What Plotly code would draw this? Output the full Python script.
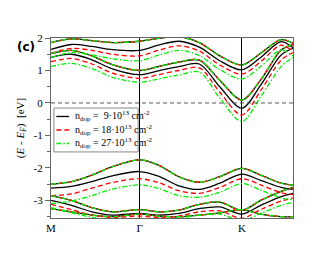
import plotly.graph_objects as go

# k-path sample positions (M - Gamma - K - M, hexagonal BZ lengths)
K_PATH = [0.0, 0.2, 0.4, 0.6, 0.866, 1.05, 1.25, 1.45, 1.65, 1.866, 2.05, 2.25, 2.366]
TICK_POS = [0.0, 0.866, 1.866]
TICK_TEXT = ["M", "Γ", "K"]
Y_TICKS = [-3, -2, -1, 0, 1, 2]

# bands that barely move with doping (drawn for every doping level)
CB2_U = [1.86, 1.97, 1.92, 1.86, 1.90, 1.99, 2.04, 1.86, 1.45, 1.17, 1.53, 1.95, 1.84]
CB1_U = [1.52, 1.62, 1.45, 1.18, 1.00, 1.12, 1.26, 1.32, 0.70, 0.09, 0.71, 1.63, 1.80]
VB1_U = [-2.50, -2.42, -2.22, -1.96, -1.75, -1.91, -2.27, -2.44, -2.27, -2.01, -2.22, -2.47, -2.53]
VB2_U = [-2.85, -3.00, -3.22, -3.35, -3.28, -3.35, -3.30, -3.12, -3.05, -3.30, -3.00, -2.72, -2.60]
VB3_U = [-3.25, -3.35, -3.45, -3.50, -3.42, -3.48, -3.50, -3.45, -3.38, -3.28, -3.42, -3.50, -3.50]

# bands shifted by doping
CB2_9 = [1.65, 1.80, 1.74, 1.64, 1.62, 1.78, 1.90, 1.72, 1.30, 1.02, 1.40, 1.89, 1.70]
CB1_9 = [1.40, 1.50, 1.33, 1.05, 0.87, 0.99, 1.12, 1.20, 0.50, -0.16, 0.55, 1.48, 1.68]
VB1_9 = [-2.62, -2.57, -2.42, -2.24, -2.11, -2.25, -2.55, -2.66, -2.47, -2.19, -2.38, -2.60, -2.66]
VB2_9 = [-3.00, -3.15, -3.35, -3.45, -3.40, -3.45, -3.40, -3.25, -3.20, -3.42, -3.15, -2.88, -2.78]

CB2_18 = [1.53, 1.68, 1.62, 1.50, 1.45, 1.62, 1.76, 1.60, 1.17, 0.89, 1.27, 1.78, 1.58]
CB1_18 = [1.27, 1.37, 1.20, 0.92, 0.76, 0.87, 1.00, 1.08, 0.33, -0.37, 0.38, 1.32, 1.55]
VB1_18 = [-2.85, -2.80, -2.62, -2.45, -2.33, -2.45, -2.70, -2.78, -2.60, -2.33, -2.52, -2.76, -2.82]
VB2_18 = [-3.12, -3.28, -3.45, -3.52, -3.48, -3.52, -3.48, -3.35, -3.32, -3.55, -3.28, -3.02, -2.92]

CB2_27 = [1.40, 1.55, 1.48, 1.36, 1.30, 1.47, 1.62, 1.46, 1.03, 0.74, 1.12, 1.63, 1.45]
CB1_27 = [1.12, 1.22, 1.06, 0.79, 0.64, 0.74, 0.86, 0.95, 0.15, -0.57, 0.19, 1.12, 1.40]
VB1_27 = [-3.10, -3.02, -2.85, -2.65, -2.52, -2.63, -2.85, -2.90, -2.75, -2.48, -2.68, -2.92, -2.98]
VB2_27 = [-3.22, -3.38, -3.52, -3.60, -3.55, -3.60, -3.55, -3.45, -3.42, -3.62, -3.40, -3.15, -3.05]

LABELS = [
    "n<sub>dop</sub> =  9·10<sup>13</sup> cm<sup>-2</sup>",
    "n<sub>dop</sub> = 18·10<sup>13</sup> cm<sup>-2</sup>",
    "n<sub>dop</sub> = 27·10<sup>13</sup> cm<sup>-2</sup>",
]
COLORS = ["#000000", "#ff0000", "#00ee00"]
DASHES = ["solid", "5px,3px", "5px,2px,1.5px,2px"]
BANDS = [
    [CB2_U, CB1_U, VB1_U, VB2_U, VB3_U, CB2_9, CB1_9, VB1_9, VB2_9],
    [CB2_U, CB1_U, VB1_U, VB2_U, VB3_U, CB2_18, CB1_18, VB1_18, VB2_18],
    [CB2_U, CB1_U, VB1_U, VB2_U, VB3_U, CB2_27, CB1_27, VB1_27, VB2_27],
]

fig = go.Figure()
for name, color, dash, bands in zip(LABELS, COLORS, DASHES, BANDS):
    for band in bands:
        fig.add_trace(go.Scatter(
            x=K_PATH, y=band, mode="lines", name=name, legendgroup=name,
            showlegend=False, hoverinfo="skip",
            line=dict(color=color, dash=dash, width=1.3, shape="spline", smoothing=0.9),
        ))

# Fermi level
fig.add_hline(y=0, line=dict(color="#555555", width=1, dash="4px,3px"))

# compact legend (box, key lines, labels) in paper coordinates
LEG_X0, LEG_X1, LEG_Y0, LEG_Y1 = 0.012, 0.36, 0.367, 0.611
ROW_Y = [0.564, 0.489, 0.414]
KEY_X0, KEY_X1, TXT_X = 0.022, 0.075, 0.092
fig.add_shape(type="rect", xref="paper", yref="paper",
              x0=LEG_X0, x1=LEG_X1, y0=LEG_Y0, y1=LEG_Y1,
              line=dict(color="#888888", width=1), fillcolor="white", layer="above")
serif = "Liberation Serif"
for label, color, dash, ry in zip(LABELS, COLORS, DASHES, ROW_Y):
    fig.add_shape(type="line", xref="paper", yref="paper",
                  x0=KEY_X0, x1=KEY_X1, y0=ry, y1=ry,
                  line=dict(color=color, width=1.3, dash=dash), layer="above")
    fig.add_annotation(text=label, xref="paper", yref="paper", x=TXT_X, y=ry,
                       xanchor="left", yanchor="middle", showarrow=False,
                       font=dict(family=serif, size=10, color="black"))

fig.update_layout(
    width=330, height=255,
    margin=dict(l=31, r=45, t=30, b=45),
    paper_bgcolor="white", plot_bgcolor="white",
    showlegend=False,
    font=dict(family=serif, size=11, color="black"),
)
fig.update_xaxes(
    range=[0, 2.366], tickvals=TICK_POS, ticktext=TICK_TEXT,
    showgrid=True, gridcolor="#000000", gridwidth=1,
    showline=True, linecolor="#666666", linewidth=1.2, mirror=True,
    ticks="", zeroline=False,
    tickfont=dict(family=serif, size=11, color="black"),
)
fig.update_yaxes(
    range=[-3.54, 2], tickvals=Y_TICKS, ticktext=[str(t) for t in Y_TICKS],
    showgrid=False, zeroline=False,
    showline=True, linecolor="#666666", linewidth=1.2, mirror=True,
    ticks="outside", ticklen=5, tickcolor="#666666",
    minor=dict(tickvals=[-3.5, -2.5, -1.5, -0.5, 0.5, 1.5], ticks="outside", ticklen=3, tickcolor="#666666"),
    tickfont=dict(family=serif, size=11, color="black"),
    title=dict(text="(<i>E</i> - <i>E</i><sub><i>F</i></sub>)  [eV]", standoff=6,
               font=dict(family=serif, size=11, color="black")),
)
fig.add_annotation(
    text="<b>(c)</b>", xref="paper", yref="paper", x=-0.104, y=1.0,
    xanchor="center", yanchor="top", showarrow=False,
    font=dict(family="DejaVu Sans", size=12, color="black"),
)
fig.write_html("out.html")
